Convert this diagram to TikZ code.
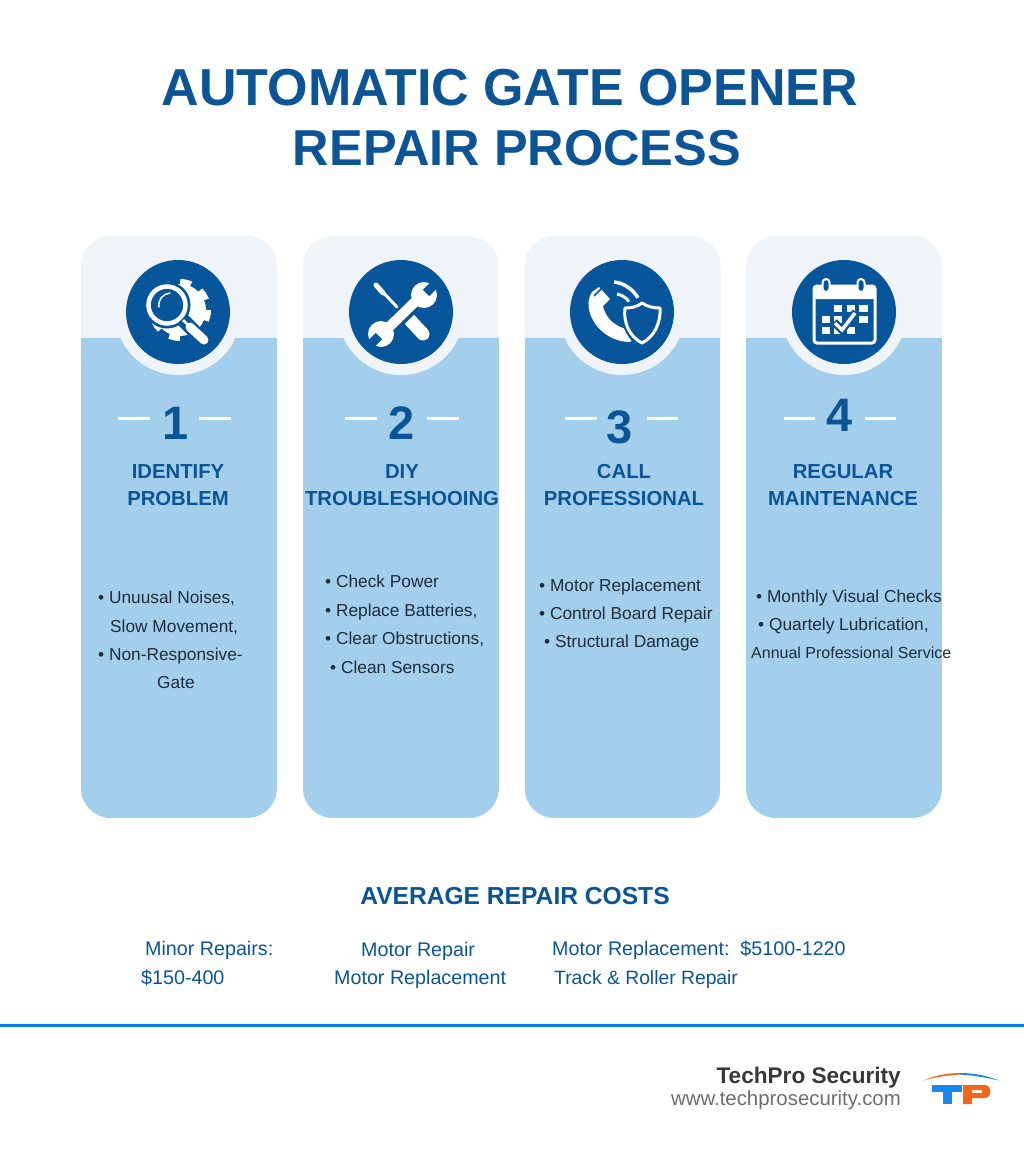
\documentclass[tikz,border=0pt]{standalone}
\usepackage{fontspec}
\setmainfont{Liberation Sans}
\definecolor{navy}{HTML}{0B5596}
\definecolor{badgeblue}{HTML}{07559A}
\definecolor{cardblue}{HTML}{A3CFEC}
\definecolor{cardtop}{HTML}{EEF4F8}
\definecolor{bodyink}{HTML}{1F2D3A}
\definecolor{rulecol}{HTML}{0A7BEF}
\definecolor{logoblue}{HTML}{1A86F0}
\definecolor{logoorange}{HTML}{F2651A}
\begin{document}
\begin{tikzpicture}
	[x=1pt, y=-1pt,
	card/.style ={rectangle, fill=cardtop, minimum width=196, minimum height=582, rounded corners=30, inner sep=0,
		path picture={\fill[cardblue, sharp corners] ([yshift=-102pt]path picture bounding box.north west) rectangle (path picture bounding box.south east);}},
	halo/.style ={circle, fill=cardtop, minimum size=126, inner sep=0},
	badge/.style ={circle, fill=badgeblue, minimum size=104, inner sep=0},
	numeral/.style ={text=navy, font=\fontsize{47}{50}\selectfont\bfseries, inner sep=0},
	rulebar/.style ={draw=white, line width=3},
	title/.style ={text=navy, inner sep=0, text height=38, text depth=0},
	head/.style ={text=navy, font=\fontsize{20.3}{26}\selectfont\bfseries, inner sep=0, text height=16, text depth=0},
	item/.style ={anchor=west, text=bodyink, font=\fontsize{17.3}{20}\selectfont, inner sep=0, text height=13, text depth=4},
	cost/.style ={anchor=west, text=navy, font=\fontsize{19.7}{24}\selectfont, inner sep=0, text height=15, text depth=4},
	glyph/.style ={draw=white, fill=none}]
	\useasboundingbox (0,0) rectangle (1024,1154);
	\fill[white] (0,0) rectangle (1024,1154);

	% title
	\node [title, font=\fontsize{52}{60}\selectfont\bfseries] (title1) at (510,86) {AUTOMATIC GATE OPENER};
	\node [title, font=\fontsize{50.5}{60}\selectfont\bfseries] (title2) at (517,146) {REPAIR PROCESS};

	% cards
	\node [card] (card1) at (179,527) {};
	\node [card] (card2) at (401,527) {};
	\node [card] (card3) at (622.5,527) {};
	\node [card] (card4) at (844,527) {};
	\node [halo] (halo1) at (178,312) {};
	\node [halo] (halo2) at (401,312) {};
	\node [halo] (halo3) at (622,312) {};
	\node [halo] (halo4) at (844,312) {};
	\node [badge] (badge1) at (178,312) {};
	\node [badge] (badge2) at (401,312) {};
	\node [badge] (badge3) at (622,312) {};
	\node [badge] (badge4) at (844,312) {};

	% icon 1
	\fill[white] (180,310) circle (26);
	\draw[white, line width=6, dash pattern=on 11 off 11] (180,310) circle (28);
	\fill[badgeblue] (167,305) circle (23.5);
	\draw[glyph, line width=4.5] (167,305) circle (18.5);
	\draw[badgeblue, line width=14] (182,319) -- (207,344);
	\draw[white, line width=9, line cap=round] (190,327) -- (204,340);
	\draw[white, line width=2.5] (183,320) -- (190,327);
	\draw[glyph, line width=1.5, line cap=round] (159,307) .. controls (158,299) and (163,294) .. (170,293);

	% icon 2
	\draw[white, line width=3, line cap=round] (377,286) -- (397,307);
	\draw[white, line width=5, line cap=round] (376,285) -- (383,293);
	\draw[white, line width=13, line cap=round] (410,320) -- (423,334);
	\draw[badgeblue, line width=15] (392,326) -- (418,300);
	\draw[white, line width=10] (385,331) -- (421,296);
	\fill[white] (424,295) circle (13);
	\fill[white] (381,334) circle (13);
	\draw[badgeblue, line width=9] (426,293) -- (439,280);
	\draw[badgeblue, line width=9] (379,336) -- (366,349);

	% icon 3
	\fill[white] (599,287) -- (610,299) -- (603,306) .. controls (605,316) and (612,324) .. (623,328) -- (636,336) -- (630,342) .. controls (600,342) and (580,310) .. (592,292) -- cycle;
	\draw[badgeblue, line width=1.5] (594,296) -- (604,286);
	\draw[glyph, line width=3.5] (614,282) .. controls (625,283) and (635,291) .. (639,300);
	\draw[glyph, line width=3] (617,294) .. controls (622,295) and (627,298) .. (629,302);
	\fill[badgeblue] (642,296) -- (660,303) -- (664,306) .. controls (665,325) and (655,342) .. (642,349) .. controls (629,342) and (619,325) .. (620,306) -- cycle;
	\draw[glyph, fill=badgeblue, line width=3, line join=round] (642,303) .. controls (648,307) and (654,308) .. (660,308) .. controls (661,323) and (654,337) .. (642,343) .. controls (630,337) and (623,323) .. (625,308) .. controls (631,308) and (637,307) .. (642,303) -- cycle;

	% icon 4
	\draw[glyph, line width=3, rounded corners=3] (814,286) rectangle (875,343);
	\fill[white, rounded corners=2] (814,286) rectangle (875,299);
	\draw[white, fill=badgeblue, line width=2, rounded corners=3.5] (822.5,279) rectangle (829.5,292);
	\draw[white, fill=badgeblue, line width=2, rounded corners=3.5] (857.5,279) rectangle (864.5,292);
	\fill[white] (834,305) rectangle (842,312);
	\fill[white] (847,305) rectangle (855,312);
	\fill[white] (859,305) rectangle (868,312);
	\fill[white] (822,316) rectangle (830,323);
	\fill[white] (834,316) rectangle (842,323);
	\fill[white] (859,316) rectangle (868,323);
	\fill[white] (822,327) rectangle (830,334);
	\fill[white] (834,327) rectangle (842,334);
	\fill[white] (847,327) rectangle (855,334);
	\draw[badgeblue, line width=8] (834,322) -- (842,330) -- (856,312);
	\draw[white, line width=3.5] (835,323) -- (842,330) -- (855,313);

	% numbers
	\node [numeral] (num1) at (176,423) {1};
	\node [numeral] (num2) at (402,423) {2};
	\node [numeral] (num3) at (620,427) {3};
	\node [numeral] (num4) at (840,415) {4};
	\draw [rulebar] (118,418) -- (150,418);
	\draw [rulebar] (199,418) -- (231,418);
	\draw [rulebar] (345,418) -- (377,418);
	\draw [rulebar] (427,418) -- (459,418);
	\draw [rulebar] (565,418) -- (597,418);
	\draw [rulebar] (647,418) -- (678,418);
	\draw [rulebar] (784,418) -- (815,418);
	\draw [rulebar] (865,418) -- (896,418);

	% headings
	\node [head] (head1a) at (178,470) {IDENTIFY};
	\node [head] (head1b) at (178,497) {PROBLEM};
	\node [head] (head2a) at (402,470) {DIY};
	\node [head] (head2b) at (402,497) {TROUBLESHOOING};
	\node [head] (head3a) at (624,470) {CALL};
	\node [head] (head3b) at (624,497) {PROFESSIONAL};
	\node [head] (head4a) at (843,470) {REGULAR};
	\node [head] (head4b) at (843,497) {MAINTENANCE};

	% lists
	\node [item] (item1a) at (98,599) {• Unuusal Noises,};
	\node [item] (item1b) at (110,628) {Slow Movement,};
	\node [item] (item1c) at (98,656) {• Non-Responsive-};
	\node [item, anchor=center] (item1d) at (176,684) {Gate};
	\node [item] (item2a) at (325,583) {• Check Power};
	\node [item] (item2b) at (325,612) {• Replace Batteries,};
	\node [item] (item2c) at (325,640) {• Clear Obstructions,};
	\node [item] (item2d) at (330,669) {• Clean Sensors};
	\node [item] (item3a) at (539,587) {• Motor Replacement};
	\node [item] (item3b) at (539,615) {• Control Board Repair};
	\node [item] (item3c) at (544,643) {• Structural Damage};
	\node [item] (item4a) at (756,598) {• Monthly Visual Checks};
	\node [item] (item4b) at (758,626) {• Quartely Lubrication,};
	\node [item, font=\fontsize{16}{20}\selectfont] (item4c) at (751,654) {Annual Professional Service};

	% costs
	\node [text=navy, font=\fontsize{24.6}{30}\selectfont\bfseries, inner sep=0] (costhead) at (515,896) {AVERAGE REPAIR COSTS};
	\node [cost] (cost1a) at (145,950) {Minor Repairs:};
	\node [cost] (cost1b) at (141,979) {\$150-400};
	\node [cost] (cost2a) at (361,951) {Motor Repair};
	\node [cost] (cost2b) at (334,979) {Motor Replacement};
	\node [cost] (cost3a) at (552,950) {Motor Replacement:\ \ \$5100-1220};
	\node [cost, font=\fontsize{19.3}{24}\selectfont] (cost3b) at (554,979) {Track \& Roller Repair};

	% footer
	\draw [rulecol, line width=3] (0,1025) -- (1024,1025);
	\node [anchor=east, text=black!78, font=\fontsize{22.6}{28}\selectfont\bfseries, inner sep=0] (brand) at (901,1078) {TechPro Security};
	\node [anchor=east, text=black!57, font=\fontsize{20.4}{24}\selectfont, inner sep=0] (site) at (901,1100) {www.techprosecurity.com};

	% logo
	\fill[logoorange] (924,1080.5) .. controls (935,1075) and (948,1073) .. (962,1073) -- (962,1074.5) .. controls (948,1075) and (935,1077) .. (924,1080.5) -- cycle;
	\fill[logoblue] (960,1073) .. controls (975,1073) and (988,1076) .. (999,1080.5) .. controls (988,1078) and (975,1075.5) .. (960,1074.5) -- cycle;
	\fill[logoblue] (932,1085) rectangle (962,1092);
	\fill[logoblue] (943,1085) rectangle (952,1104);
	\fill[logoorange, even odd rule] (963,1085) -- (985,1085) .. controls (992,1085) and (992,1098) .. (985,1098) -- (972,1098) -- (972,1104) -- (963,1104) -- cycle (972,1090) rectangle (982,1093);
\end{tikzpicture}
\end{document}
